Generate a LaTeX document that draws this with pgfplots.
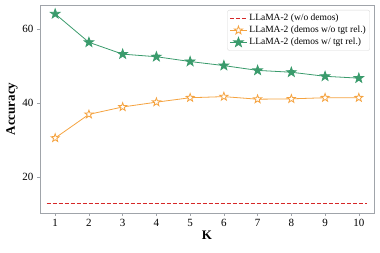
\documentclass[border=0pt]{standalone}
\usepackage{fontspec}
\setmainfont{Liberation Serif}
\usepackage{pgfplots}
\pgfplotsset{compat=1.18}
\definecolor{cgreen}{RGB}{58,155,108}
\definecolor{corange}{RGB}{245,163,64}
\definecolor{cred}{RGB}{214,39,40}
\definecolor{spine}{RGB}{160,164,170}
\pgfdeclareplotmark{fstar}{%
  \pgfpathmoveto{\pgfqpointpolar{90}{\pgfplotmarksize}}%
  \pgfpathlineto{\pgfqpointpolar{126}{0.4\pgfplotmarksize}}%
  \pgfpathlineto{\pgfqpointpolar{162}{\pgfplotmarksize}}%
  \pgfpathlineto{\pgfqpointpolar{198}{0.4\pgfplotmarksize}}%
  \pgfpathlineto{\pgfqpointpolar{234}{\pgfplotmarksize}}%
  \pgfpathlineto{\pgfqpointpolar{270}{0.4\pgfplotmarksize}}%
  \pgfpathlineto{\pgfqpointpolar{306}{\pgfplotmarksize}}%
  \pgfpathlineto{\pgfqpointpolar{342}{0.4\pgfplotmarksize}}%
  \pgfpathlineto{\pgfqpointpolar{18}{\pgfplotmarksize}}%
  \pgfpathlineto{\pgfqpointpolar{54}{0.4\pgfplotmarksize}}%
  \pgfpathclose
  \pgfusepathqfillstroke}
\begin{document}
\begin{tikzpicture}[x=1pt,y=1pt]
\path[use as bounding box] (-40,-39) rectangle (340,213);
\begin{axis}[
  at={(0,0)}, anchor=south west,
  scale only axis,
  width=334pt, height=208pt,
  xmin=0.55, xmax=10.45,
  ymin=10.3, ymax=66.6,
  xtick={1,...,10},
  ytick={20,40,60},
  axis line style={spine},
  tick style={spine, thin},
  major tick length=3pt,
  tick align=outside,
  xtick pos=bottom, ytick pos=left,
  ticklabel style={font=\fontsize{11}{12}\selectfont},
  /pgf/number format/assume math mode=true,
  xlabel={\textbf{K}},
  ylabel={\textbf{Accuracy}},
  xlabel style={font=\fontsize{13}{14}\selectfont, yshift=3pt},
  ylabel style={font=\fontsize{13}{14}\selectfont, yshift=-2pt},
  legend style={at={(rel axis cs:0.988,0.976)}, anchor=north east,
    font=\fontsize{9.5}{11}\selectfont, draw=black!15, rounded corners=2pt,
    row sep=0pt, inner sep=2pt, cells={anchor=west}},
  legend cell align=left,
]
\addplot[cred, line width=0.9pt, dash pattern=on 4pt off 2pt, mark=none] coordinates {(0.75,12.9) (10.25,12.9)};
\addlegendentry{LLaMA-2 (w/o demos)}
\addplot[corange, thick, mark=fstar, mark options={fill=white, solid, draw=corange, line width=0.8pt}, mark size=4.3pt] coordinates {
(1,30.6) (2,37.0) (3,39.0) (4,40.3) (5,41.5) (6,41.8) (7,41.1) (8,41.2) (9,41.5) (10,41.5)};
\addlegendentry{LLaMA-2 (demos w/o tgt rel.)}
\addplot[cgreen, thick, mark=fstar, mark options={fill=cgreen, solid}, mark size=5pt] coordinates {
(1,64.2) (2,56.5) (3,53.3) (4,52.6) (5,51.3) (6,50.2) (7,48.9) (8,48.4) (9,47.3) (10,46.8)};
\addlegendentry{LLaMA-2 (demos w/ tgt rel.)}
\end{axis}
\end{tikzpicture}
\end{document}
